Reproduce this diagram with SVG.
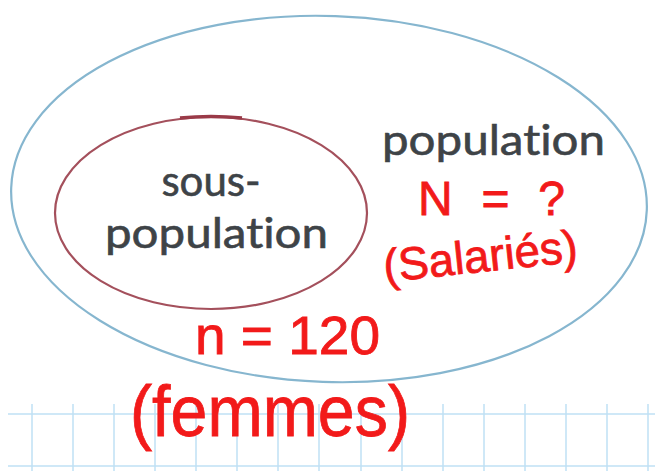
<svg xmlns="http://www.w3.org/2000/svg" width="655" height="471" viewBox="0 0 655 471">
<style>
.grid line{stroke:#bfe0f4;stroke-width:1.5}
.lbl{font-family:Lato,"Open Sans","Liberation Sans",sans-serif;fill:#3e4347;font-size:42px;stroke:#3e4347;stroke-width:0.6;font-variant-ligatures:none;font-feature-settings:"liga" 0,"dlig" 0}
.hand{font-family:"Liberation Sans","DejaVu Sans",sans-serif;fill:#f21a1a;stroke:#f21a1a;stroke-width:0.8}
</style>
<rect width="655" height="471" fill="#ffffff"/>
<g id="grid" class="grid">
<line x1="8" y1="414" x2="655" y2="414"/>
<line x1="8" y1="466" x2="655" y2="466"/>
<line x1="32" y1="404" x2="32" y2="471"/>
<line x1="73" y1="404" x2="73" y2="471"/>
<line x1="114" y1="404" x2="114" y2="471"/>
<line x1="155" y1="404" x2="155" y2="471"/>
<line x1="196" y1="404" x2="196" y2="471"/>
<line x1="237" y1="404" x2="237" y2="471"/>
<line x1="278" y1="404" x2="278" y2="471"/>
<line x1="319" y1="404" x2="319" y2="471"/>
<line x1="361" y1="404" x2="361" y2="471"/>
<line x1="402" y1="404" x2="402" y2="471"/>
<line x1="443" y1="404" x2="443" y2="471"/>
<line x1="484" y1="404" x2="484" y2="471"/>
<line x1="525" y1="404" x2="525" y2="471"/>
<line x1="566" y1="404" x2="566" y2="471"/>
<line x1="607" y1="404" x2="607" y2="471"/>
<line x1="648" y1="404" x2="648" y2="471"/>
</g>
<g id="population">
<ellipse cx="329" cy="199" rx="318" ry="183" transform="rotate(2 329 199)" fill="none" stroke="#86b6cf" stroke-width="2.2"/>
<text class="lbl" x="382" y="155" textLength="223" lengthAdjust="spacingAndGlyphs">population</text>
</g>
<g id="sous-population">
<ellipse cx="211" cy="213" rx="156" ry="96" fill="none" stroke="#a4505c" stroke-width="2.2"/>
<path d="M180,118 Q211,115 242,118" fill="none" stroke="#9a3a48" stroke-width="3.5"/>
<text class="lbl" x="211" y="196" text-anchor="middle">sous-</text>
<text class="lbl" x="105" y="248" textLength="223" lengthAdjust="spacingAndGlyphs">population</text>
</g>
<g id="annotations">
<text class="hand" x="418" y="215" font-size="48" textLength="147" lengthAdjust="spacing">N = ?</text>
<text class="hand" x="385" y="282" font-size="46" textLength="195" lengthAdjust="spacingAndGlyphs" transform="rotate(-6 385 282)">(Salariés)</text>
<text class="hand" x="195" y="354" font-size="54" textLength="185" lengthAdjust="spacingAndGlyphs">n = 120</text>
<text class="hand" x="130" y="436" font-size="72" textLength="280" lengthAdjust="spacingAndGlyphs">(femmes)</text>
</g>
</svg>
